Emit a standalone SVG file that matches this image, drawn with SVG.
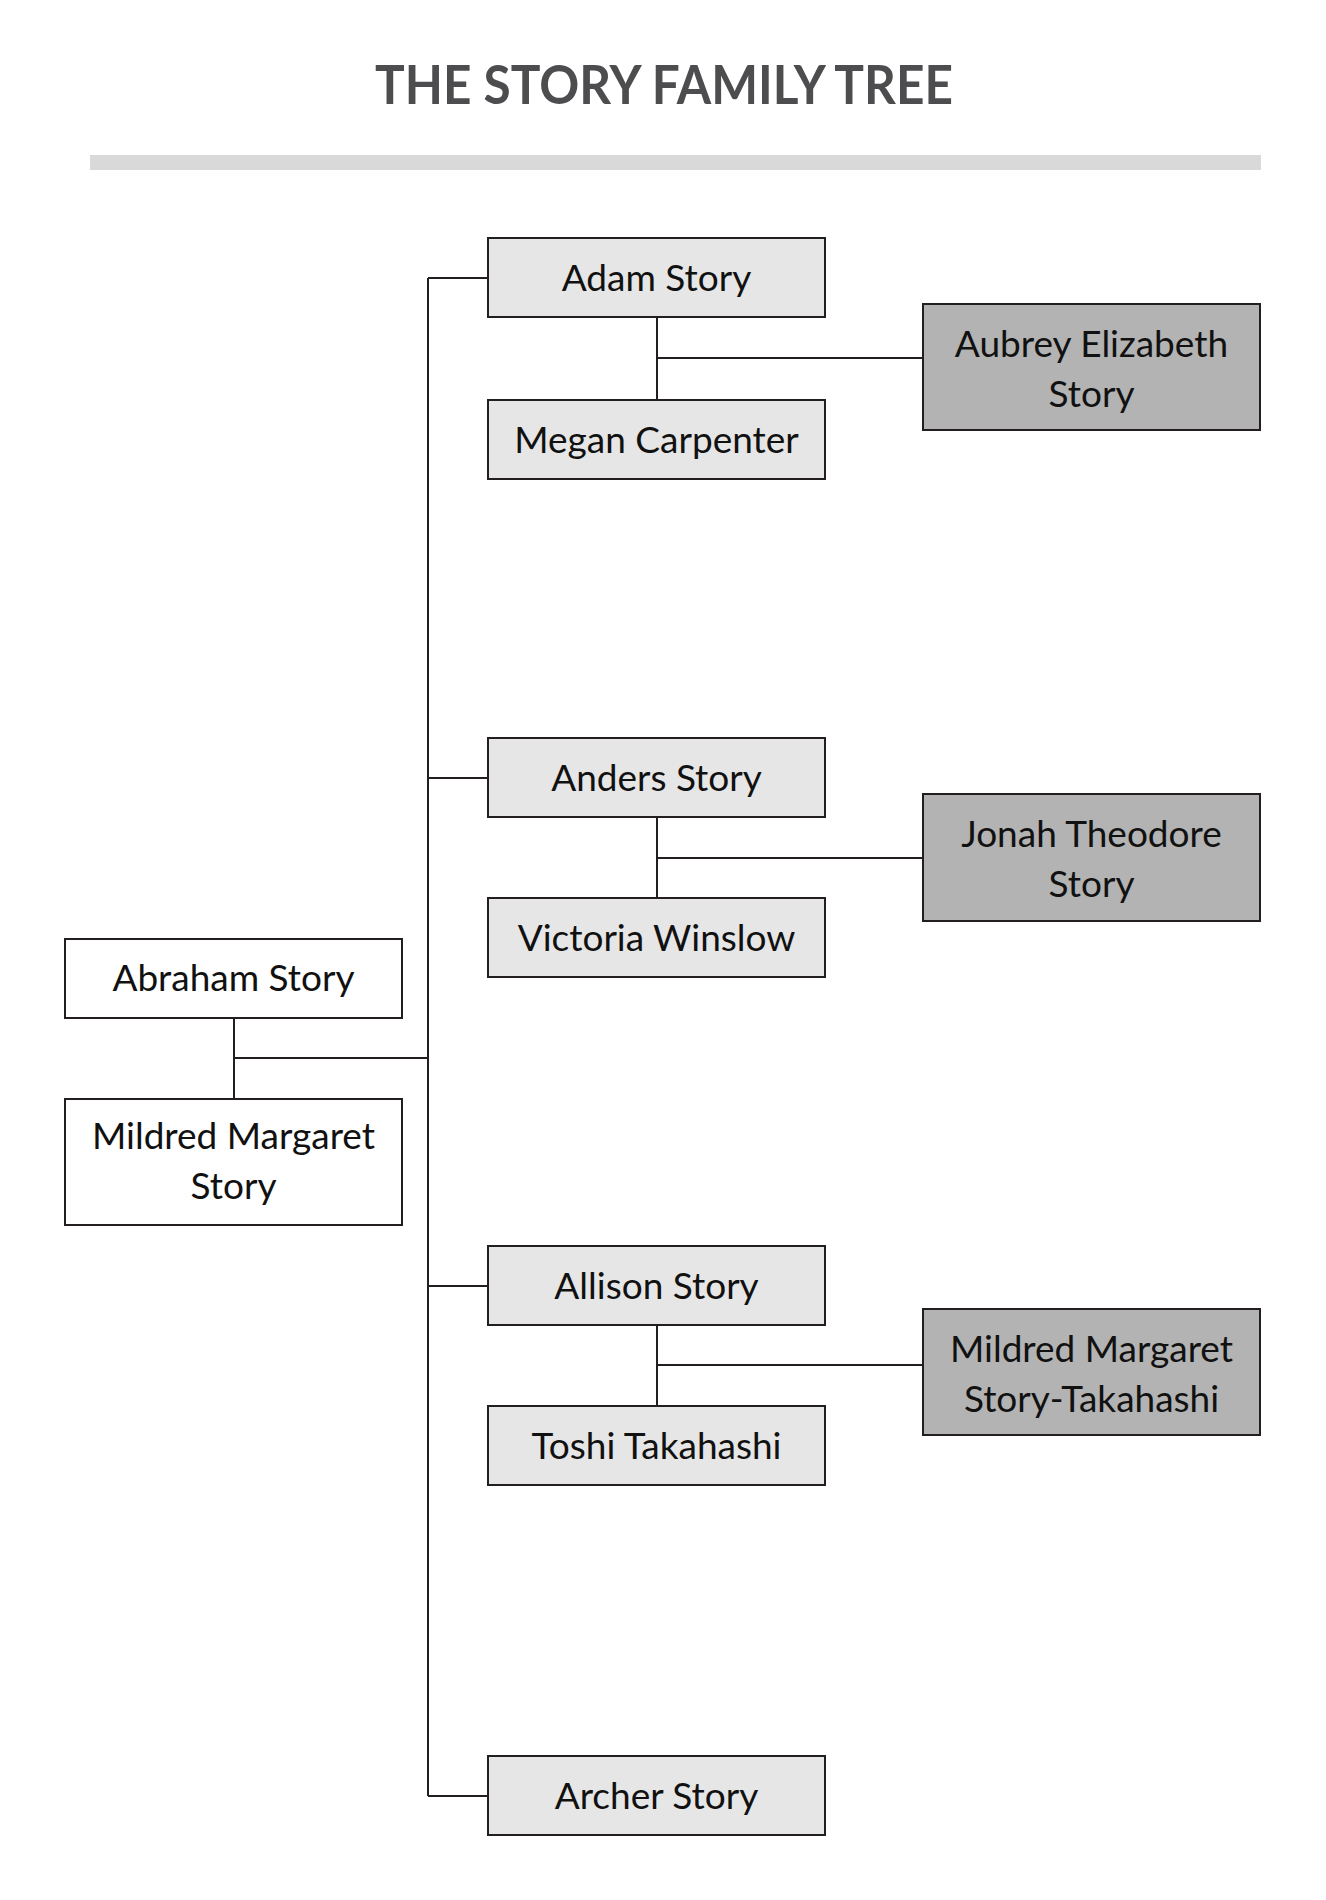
<svg xmlns="http://www.w3.org/2000/svg" width="1326" height="1900" viewBox="0 0 1326 1900">
<style>
.box{stroke:#231f20;stroke-width:2}
.light{fill:#e6e6e6}
.dark{fill:#b3b3b3}
.white{fill:#ffffff}
.lbl{font-family:Lato,"Open Sans",sans-serif;font-size:37px;fill:#111;text-anchor:middle}
.ln{stroke:#231f20;stroke-width:2;fill:none}
</style>
<rect width="1326" height="1900" fill="#fff"/>
<text x="664" y="104" font-family="Lato,'Open Sans',sans-serif" font-weight="bold" font-size="54" fill="#4d4d4f" text-anchor="middle" textLength="578" lengthAdjust="spacingAndGlyphs">THE STORY FAMILY TREE</text>
<rect x="90" y="155" width="1171" height="15" fill="#d9d9d9"/>
<g id="connectors">
<path class="ln" d="M428 278V1796"/>
<path class="ln" d="M428 278H488M428 778H488M428 1286H488M428 1796H488"/>
<path class="ln" d="M234 1018V1099M234 1058H428"/>
<path class="ln" d="M657 317V400M657 358H923"/>
<path class="ln" d="M657 817V898M657 858H923"/>
<path class="ln" d="M657 1325V1406M657 1365H923"/>
</g>
<g id="adam"><rect class="box light" x="488" y="238" width="337" height="79"/><text class="lbl" x="656.5" y="291">Adam Story</text></g>
<g id="megan"><rect class="box light" x="488" y="400" width="337" height="79"/><text class="lbl" x="656.5" y="453">Megan Carpenter</text></g>
<g id="aubrey"><rect class="box dark" x="923" y="304" width="337" height="126"/><text class="lbl" x="1091.5" y="357">Aubrey Elizabeth</text><text class="lbl" x="1091.5" y="407">Story</text></g>
<g id="anders"><rect class="box light" x="488" y="738" width="337" height="79"/><text class="lbl" x="656.5" y="791">Anders Story</text></g>
<g id="victoria"><rect class="box light" x="488" y="898" width="337" height="79"/><text class="lbl" x="656.5" y="951">Victoria Winslow</text></g>
<g id="jonah"><rect class="box dark" x="923" y="794" width="337" height="127"/><text class="lbl" x="1091.5" y="847">Jonah Theodore</text><text class="lbl" x="1091.5" y="897">Story</text></g>
<g id="abraham"><rect class="box white" x="65" y="939" width="337" height="79"/><text class="lbl" x="233.5" y="991">Abraham Story</text></g>
<g id="mildred"><rect class="box white" x="65" y="1099" width="337" height="126"/><text class="lbl" x="233.5" y="1149">Mildred Margaret</text><text class="lbl" x="233.5" y="1199">Story</text></g>
<g id="allison"><rect class="box light" x="488" y="1246" width="337" height="79"/><text class="lbl" x="656.5" y="1299">Allison Story</text></g>
<g id="toshi"><rect class="box light" x="488" y="1406" width="337" height="79"/><text class="lbl" x="656.5" y="1459">Toshi Takahashi</text></g>
<g id="mildred-st"><rect class="box dark" x="923" y="1309" width="337" height="126"/><text class="lbl" x="1091.5" y="1362">Mildred Margaret</text><text class="lbl" x="1091.5" y="1412">Story-Takahashi</text></g>
<g id="archer"><rect class="box light" x="488" y="1756" width="337" height="79"/><text class="lbl" x="656.5" y="1809">Archer Story</text></g>
</svg>
